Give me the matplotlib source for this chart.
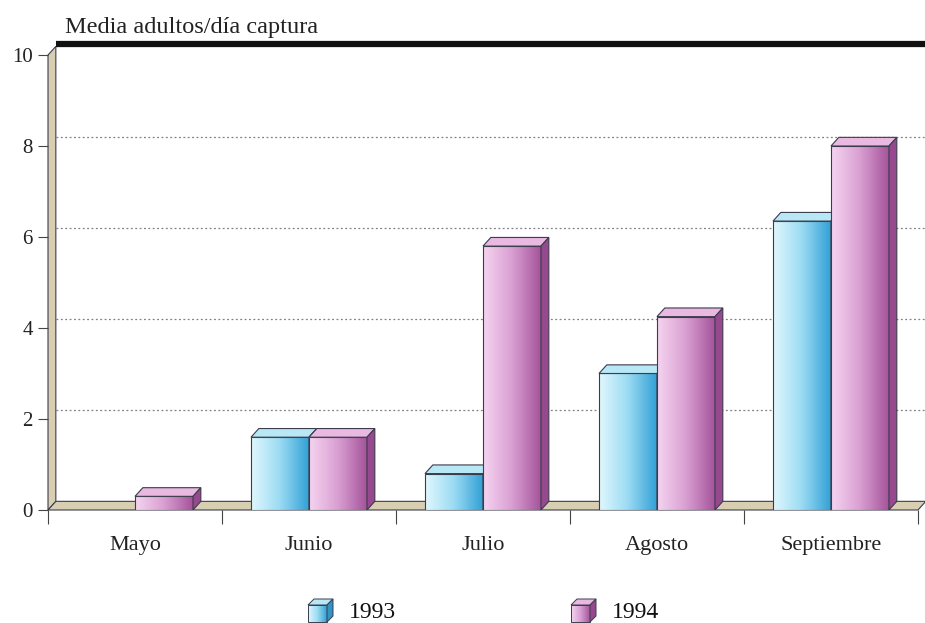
import matplotlib.pyplot as plt
import numpy as np
from matplotlib.colors import LinearSegmentedColormap
from matplotlib.patches import Polygon, Rectangle

# Datos
meses = ["Mayo", "Junio", "Julio", "Agosto", "Septiembre"]
media_1993 = [0.0, 1.6, 0.8, 3.0, 6.35]
media_1994 = [0.3, 1.6, 5.8, 4.25, 8.0]
anios = ["1993", "1994"]
ticks_y = [0, 2, 4, 6, 8, 10]

plt.rcParams['font.family'] = ['Liberation Serif', 'DejaVu Serif']

cmap_cyan = LinearSegmentedColormap.from_list("cyan", ["#e0f7fd", "#9bdbf3", "#33a2d6"])
cmap_rosa = LinearSegmentedColormap.from_list("rosa", ["#f5d4f0", "#d99fd2", "#a6559c"])
estilos = [
    dict(cmap=cmap_cyan, top="#b8e8f6", side="#3393c4"),
    dict(cmap=cmap_rosa, top="#e9b9e2", side="#96498e"),
]
borde = "#3c3c4c"
beige = "#d8ceb2"

fig = plt.figure(figsize=(9.25, 6.23), dpi=100)
ax = fig.add_axes([0.0519, 0.1814, 0.9405, 0.7303])
n = len(meses)
ax.set_xlim(0, n)
ax.set_ylim(0, 10)

DX, DY = 0.045, 0.19   # profundidad del efecto 3D
grad = np.linspace(0, 1, 64).reshape(1, -1)

# pared izquierda y suelo
ax.add_patch(Polygon([(0, 0), (DX, DY), (DX, 10 + DY), (0, 10)], closed=True,
                     facecolor=beige, edgecolor=borde, lw=0.8, zorder=1, clip_on=False))
ax.add_patch(Polygon([(0, 0), (n, 0), (n + DX, DY), (DX, DY)], closed=True,
                     facecolor=beige, edgecolor=borde, lw=0.8, zorder=1, clip_on=False))

# lineas de rejilla en la pared del fondo
for v in ticks_y[1:-1]:
    ax.plot([DX, n + DX], [v + DY, v + DY], ls=(0, (1.5, 2)), color="#808080",
            lw=0.9, zorder=0.5, clip_on=False)

# barra negra superior
ax.plot([DX, n + 0.1], [10 + DY + 0.06, 10 + DY + 0.06], color="#111111", lw=4.5,
        solid_capstyle="butt", zorder=2, clip_on=False)


def barra_3d(x0, w, h, est, z):
    if h <= 0:
        return
    im = ax.imshow(grad, extent=[x0, x0 + w, 0, h], cmap=est["cmap"], aspect="auto",
                   interpolation="bilinear", zorder=z)
    rect = Rectangle((x0, 0), w, h, facecolor="none", edgecolor=borde, lw=0.8, zorder=z + 0.1)
    ax.add_patch(rect)
    im.set_clip_path(rect)
    ax.add_patch(Polygon([(x0, h), (x0 + DX, h + DY), (x0 + w + DX, h + DY), (x0 + w, h)],
                         closed=True, facecolor=est["top"], edgecolor=borde, lw=0.8, zorder=z + 0.1))
    ax.add_patch(Polygon([(x0 + w, 0), (x0 + w + DX, DY), (x0 + w + DX, h + DY), (x0 + w, h)],
                         closed=True, facecolor=est["side"], edgecolor=borde, lw=0.8, zorder=z + 0.1))


ancho = 1 / 3
z = 3
for i in range(n):
    for j, serie in enumerate([media_1993, media_1994]):
        barra_3d(i + 1 / 6 + j * ancho, ancho, serie[i], estilos[j], z)
        z += 1

ax.set_xlim(0, n)
ax.set_ylim(0, 10)
for s in ax.spines.values():
    s.set_visible(False)
ax.set_yticks(ticks_y)
ax.set_yticklabels([str(t) for t in ticks_y], fontsize=15, color="#222222")
ax.tick_params(axis="y", length=7, width=0.8, color="#444444", pad=4)
ax.set_xticks(range(n + 1))
ax.set_xticklabels([""] * (n + 1))
ax.set_xticks(np.arange(n) + 0.5, minor=True)
ax.set_xticklabels(meses, minor=True, fontsize=16, color="#222222")
ax.tick_params(axis="x", which="major", length=10, width=0.8, color="#444444")
ax.tick_params(axis="x", which="minor", length=0, pad=19)
ax.set_facecolor("white")

fig.text(65 / 925, 1 - 28 / 623, "Media adultos/día captura", fontsize=17.5,
         ha="left", va="center", color="#222222")

# leyenda con cubos
lax = fig.add_axes([0, 0, 1, 1], zorder=-1)
lax.set_xlim(0, 925)
lax.set_ylim(623, 0)
lax.axis("off")
for (x0, etiqueta), est in zip([(308, anios[0]), (571, anios[1])], estilos):
    w, h, d = 19, 17, 6
    y0 = 622
    lax.imshow(grad, extent=[x0, x0 + w, y0, y0 - h], cmap=est["cmap"], aspect="auto")
    lax.add_patch(Rectangle((x0, y0 - h), w, h, facecolor="none", edgecolor=borde, lw=0.7))
    lax.add_patch(Polygon([(x0, y0 - h), (x0 + d, y0 - h - d), (x0 + w + d, y0 - h - d), (x0 + w, y0 - h)],
                          closed=True, facecolor=est["top"], edgecolor=borde, lw=0.7))
    lax.add_patch(Polygon([(x0 + w, y0), (x0 + w + d, y0 - d), (x0 + w + d, y0 - h - d), (x0 + w, y0 - h)],
                          closed=True, facecolor=est["side"], edgecolor=borde, lw=0.7))
    lax.text(x0 + w + d + 16, y0 - 10, etiqueta, fontsize=17, ha="left", va="center", color="#111111")
lax.set_xlim(0, 925)
lax.set_ylim(623, 0)

fig.savefig("out.png", dpi=100)
